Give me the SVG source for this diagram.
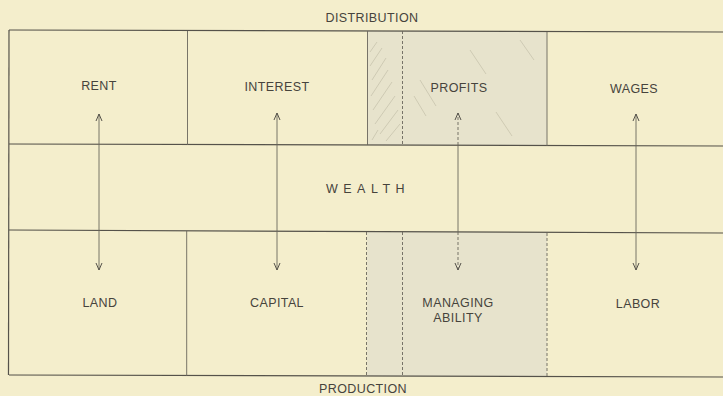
<svg xmlns="http://www.w3.org/2000/svg" width="723" height="396" viewBox="0 0 723 396">
  <style>
    .bg { fill: #f4eecc; }
    .shade { fill: #e7e3cc; }
    .rule { stroke: #55524a; stroke-width: 1.2; fill: none; }
    .thin { stroke: #6a665c; stroke-width: 0.9; fill: none; }
    .dash { stroke: #6a665c; stroke-width: 0.9; fill: none; stroke-dasharray: 3 2; }
    .hatch { stroke: #b5b09a; stroke-width: 0.5; fill: none; }
    .lbl { font-family: "Liberation Sans", Arial, sans-serif; font-size: 12.5px; fill: #46433c; text-anchor: middle; letter-spacing: 0.4px; }
    .wide { letter-spacing: 5.5px; }
  </style>
  <defs>
    <!-- open chevron head, drawn pointing along +x -->
    <marker id="head" viewBox="0 0 9 8" refX="8" refY="4" markerWidth="9" markerHeight="8" markerUnits="userSpaceOnUse" orient="auto-start-reverse">
      <path d="M1,1 L8,4 L1,7" fill="none" stroke="#55524a" stroke-width="1"/>
    </marker>
  </defs>

  <rect class="bg" x="0" y="0" width="723" height="396"/>

  <!-- shaded column: profits / managing ability -->
  <rect class="shade" x="367" y="31" width="180" height="114"/>
  <rect class="shade" x="367" y="232" width="180" height="144"/>
  <g class="hatch">
    <path d="M370,52 L377,42 M370,66 L382,48 M372,80 L386,58 M371,96 L388,70 M373,110 L392,82 M375,124 L395,96 M380,134 L398,110 M386,141 L400,124 M372,140 L378,130 M414,96 L426,116 M420,80 L436,106 M496,112 L512,136 M470,50 L486,74 M520,40 L534,60"/>
  </g>

  <!-- titles -->
  <text class="lbl" x="372" y="22">DISTRIBUTION</text>
  <text class="lbl" x="363" y="393">PRODUCTION</text>

  <!-- frame rules -->
  <g id="frame">
    <path class="rule" d="M9,30 L723,32"/>
    <path class="rule" d="M9,144 L723,146"/>
    <path class="rule" d="M9,230 L723,233"/>
    <path class="rule" d="M9,375 L723,377"/>
    <path class="rule" d="M9,30 L8.5,375"/>
  </g>

  <!-- distribution row -->
  <g id="rent">
    <text class="lbl" x="99" y="90">RENT</text>
  </g>
  <g id="interest">
    <path class="thin" d="M187.5,31 L187.5,145"/>
    <text class="lbl" x="277" y="91">INTEREST</text>
  </g>
  <g id="profits">
    <path class="thin" d="M367.5,31 L367.5,145"/>
    <path class="dash" d="M402.5,31 L402.5,145"/>
    <text class="lbl" x="459" y="92">PROFITS</text>
  </g>
  <g id="wages">
    <path class="thin" d="M547,32 L547,146"/>
    <text class="lbl" x="634" y="93">WAGES</text>
  </g>

  <!-- wealth row -->
  <g id="wealth">
    <text class="lbl wide" x="368" y="193">WEALTH</text>
  </g>

  <!-- production row -->
  <g id="land">
    <text class="lbl" x="100" y="307">LAND</text>
  </g>
  <g id="capital">
    <path class="thin" d="M186.7,231 L186.7,376"/>
    <text class="lbl" x="277" y="307">CAPITAL</text>
  </g>
  <g id="managing-ability">
    <path class="dash" d="M366.5,232 L366.5,376"/>
    <path class="dash" d="M402.5,232 L402.5,376"/>
    <text class="lbl" x="458" y="307">MANAGING</text>
    <text class="lbl" x="458" y="322">ABILITY</text>
  </g>
  <g id="labor">
    <path class="dash" d="M547,233 L547,377"/>
    <text class="lbl" x="638" y="308">LABOR</text>
  </g>

  <!-- connectors: each factor of production to its share -->
  <g id="connectors">
    <path class="thin" d="M99,270 L99,114" marker-start="url(#head)" marker-end="url(#head)"/>
    <path class="thin" d="M277,270 L277,113" marker-start="url(#head)" marker-end="url(#head)"/>
    <path class="thin" d="M636,270 L636,114" marker-start="url(#head)" marker-end="url(#head)"/>
    <path class="dash" d="M458,145 L458,113" marker-end="url(#head)"/>
    <path class="thin" d="M458,145 L458,232"/>
    <path class="dash" d="M458,232 L458,270" marker-end="url(#head)"/>
  </g>
</svg>
